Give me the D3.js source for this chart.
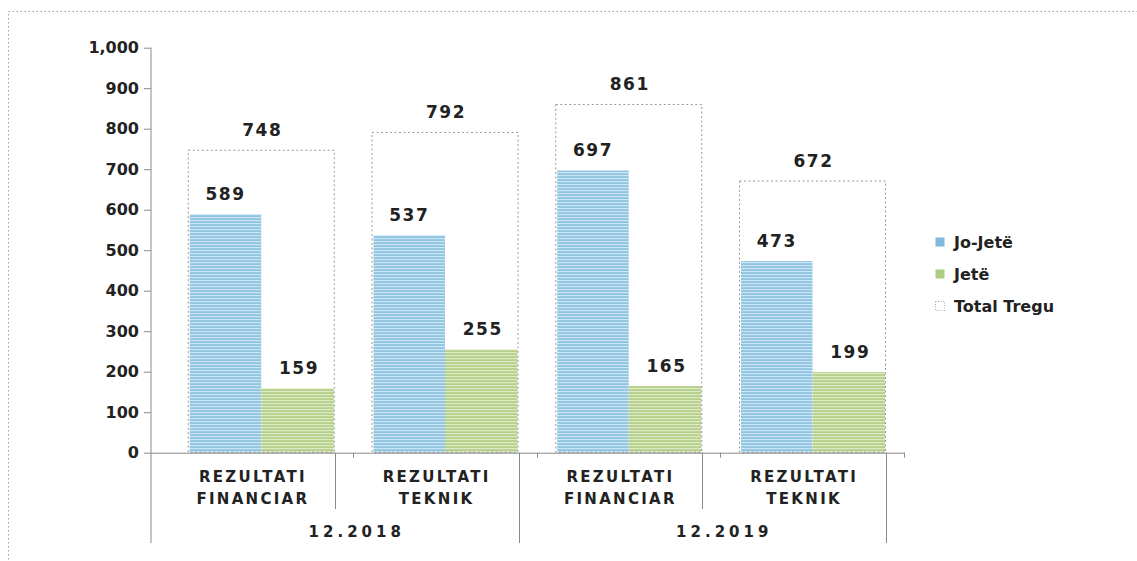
<!DOCTYPE html>
<html>
<head>
<meta charset="utf-8">
<script src="https://cdn.jsdelivr.net/npm/d3@7"></script>
<style>
  body { margin: 0; background: #fff; }
  svg { display: block; font-family: "DejaVu Sans", Verdana, sans-serif; }
</style>
</head>
<body>
<script>
'use strict'

// chart data
const categories = ['REZULTATI|FINANCIAR', 'REZULTATI|TEKNIK', 'REZULTATI|FINANCIAR', 'REZULTATI|TEKNIK']
const periods = ['12.2018', '12.2019']
const joJete = [589, 537, 697, 473]
const jete = [159, 255, 165, 199]
const totalTregu = [748, 792, 861, 672]
const yTicks = [0, 100, 200, 300, 400, 500, 600, 700, 800, 900, 1000]
const legendNames = ['Jo-Jetë', 'Jetë', 'Total Tregu']

const W = 1137, H = 561
const plotLeft = 151, plotRight = 886, plotTop = 47.7, plotBottom = 452.7
const FONT = '"DejaVu Sans", Verdana, sans-serif'

const svg = d3.select('body').append('svg').attr('width', W).attr('height', H)

// stripe patterns like the original bars
const defs = svg.append('defs')
function stripes(id, base, light) {
    const p = defs.append('pattern').attr('id', id).attr('patternUnits', 'userSpaceOnUse')
        .attr('width', 4).attr('height', 3)
    p.append('rect').attr('width', 4).attr('height', 3).attr('fill', base)
    p.append('rect').attr('y', 1).attr('width', 4).attr('height', 1.2).attr('fill', light)
}
stripes('blue', '#8fc3e0', '#cbe5f4')
stripes('green', '#b5cf8a', '#dcebc5')

// outer dotted frame
svg.append('rect').attr('x', 8.5).attr('y', 11.5).attr('width', W + 20).attr('height', H + 20)
    .attr('fill', 'none').attr('stroke', '#a0a0a0').attr('stroke-dasharray', '1.5,2.5')

const y = d3.scaleLinear().domain([0, 1000]).range([plotBottom, plotTop])
const x = d3.scaleBand().domain(d3.range(categories.length)).range([plotLeft, plotRight])
const bw = x.bandwidth()

// y axis
const yAxis = svg.append('g').attr('transform', `translate(${plotLeft},0)`)
    .call(d3.axisLeft(y).tickValues(yTicks).tickSize(7).tickFormat(d3.format(',')))
yAxis.attr('font-family', FONT)
yAxis.select('.domain').remove()
yAxis.selectAll('line').attr('stroke', '#8a8a8a')
yAxis.selectAll('text').attr('font-size', 16).attr('font-weight', 'bold').attr('fill', '#222')
    .attr('x', -12)
svg.append('line').attr('x1', plotLeft).attr('x2', plotLeft).attr('y1', plotTop).attr('y2', 543)
    .attr('stroke', '#8a8a8a')

// bars
const g = svg.append('g')
categories.forEach((c, i) => {
    const x0 = x(i) + bw * 0.2
    const bwi = bw * 0.4
    g.append('rect').attr('x', x0 + 2).attr('width', bwi - 2)
        .attr('y', y(joJete[i])).attr('height', y(0) - y(joJete[i])).attr('fill', 'url(#blue)')
    g.append('rect').attr('x', x0 + bwi).attr('width', bwi - 1)
        .attr('y', y(jete[i])).attr('height', y(0) - y(jete[i])).attr('fill', 'url(#green)')
    g.append('rect').attr('x', x0 + 0.5).attr('width', bwi * 2 - 1)
        .attr('y', y(totalTregu[i]) + 0.5).attr('height', y(0) - y(totalTregu[i]) - 1)
        .attr('fill', 'none').attr('stroke', '#999').attr('stroke-dasharray', '2,2.5')

    const lbl = (v, cx) => g.append('text').attr('x', cx).attr('y', y(v) - 14)
        .attr('text-anchor', 'middle').attr('font-size', 17).attr('font-weight', 'bold')
        .attr('letter-spacing', 1.5).attr('fill', '#222').text(v)
    lbl(totalTregu[i], x0 + bwi + 1)
    lbl(joJete[i], x0 + bwi / 2 + 1)
    lbl(jete[i], x0 + bwi * 1.5 + 1)
})

// x axis with two level categories
svg.append('line').attr('x1', plotLeft).attr('x2', 905).attr('y1', plotBottom + 0.5).attr('y2', plotBottom + 0.5)
    .attr('stroke', '#8a8a8a')
categories.forEach((c, i) => {
    const xt = Math.round(x(i) + bw + 18) + 0.5
    svg.append('line').attr('x1', xt).attr('x2', xt).attr('y1', plotBottom).attr('y2', plotBottom + 5)
        .attr('stroke', '#8a8a8a')
    const xs = Math.round(x(i) + bw) + 0.5
    svg.append('line').attr('x1', xs).attr('x2', xs).attr('y1', plotBottom)
        .attr('y2', i % 2 === 0 ? 509 : 543).attr('stroke', '#8a8a8a')
    const t = svg.append('text').attr('text-anchor', 'middle').attr('font-size', 15)
        .attr('font-weight', 'bold').attr('letter-spacing', 2.3).attr('fill', '#222')
    c.split('|').forEach((line, k) => {
        t.append('tspan').attr('x', x(i) + bw / 2 + 10).attr('y', 482 + k * 22).text(line)
    })
})
periods.forEach((p, j) => {
    svg.append('text').attr('x', x(j * 2) + bw + 22).attr('y', 537)
        .attr('text-anchor', 'middle').attr('font-size', 15).attr('font-weight', 'bold')
        .attr('letter-spacing', 4).attr('fill', '#222').text(p)
})

// legend
const fills = ['#7fbadc', '#aecb82', 'none']
legendNames.forEach((n, i) => {
    const ly = 248 + i * 32
    const r = svg.append('rect').attr('x', 935.5).attr('y', ly - 10.5).attr('width', 9).attr('height', 9)
        .attr('fill', fills[i])
    if (i === 2) r.attr('stroke', '#aaa').attr('stroke-dasharray', '1,1.5')
    svg.append('text').attr('x', 954).attr('y', ly).attr('font-size', 16).attr('font-weight', 'bold')
        .attr('fill', '#222').text(n)
})
</script>
</body>
</html>
